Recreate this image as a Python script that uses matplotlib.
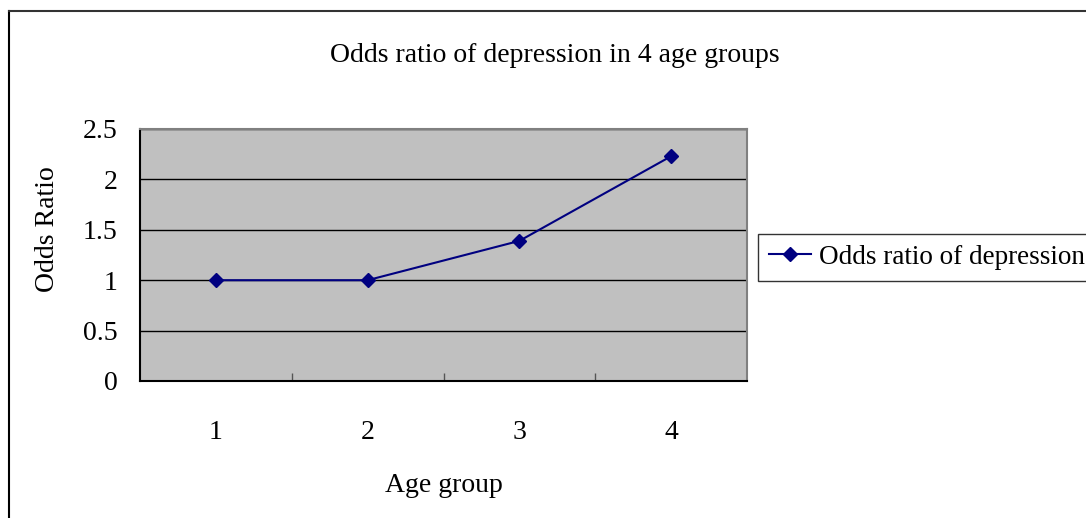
import matplotlib.pyplot as plt
from matplotlib.lines import Line2D

age_groups = [1, 2, 3, 4]
odds_ratio = [1.0, 1.0, 1.39, 2.23]
y_ticks = [0, 0.5, 1, 1.5, 2, 2.5]
y_tick_labels = ["0", "0.5", "1", "1.5", "2", "2.5"]

plt.rcParams['font.family'] = ['Liberation Serif', 'DejaVu Serif']

W, H = 1086, 518
fig = plt.figure(figsize=(W / 100, H / 100), dpi=100)
fig.patch.set_facecolor("white")

# plot area in pixel coords
left, right, top, bottom = 140, 747, 129, 381
ax = fig.add_axes([left / W, 1 - bottom / H, (right - left) / W, (bottom - top) / H])
ax.set_facecolor("#C0C0C0")

ax.plot(age_groups, odds_ratio, color="#000080", linewidth=1.5,
        marker="D", markersize=7.5, label="Odds ratio of depression", zorder=3)

ax.set_xlim(0.5, 4.5)
ax.set_ylim(0, 2.5)
ax.set_yticks(y_ticks)
ax.set_yticklabels(y_tick_labels)
ax.yaxis.grid(True, color="black", linewidth=1)
ax.set_axisbelow(True)
ax.tick_params(axis="y", length=0, labelsize=20, pad=16)

# category labels at centres, tick marks between categories
ax.set_xticks(age_groups)
ax.set_xticklabels([str(a) for a in age_groups])
ax.tick_params(axis="x", which="major", length=0, labelsize=20, pad=28)
ax.set_xticks([1.5, 2.5, 3.5], minor=True)
ax.tick_params(axis="x", which="minor", direction="in", length=6, width=1, color="#555555")

for s in ["top", "right"]:
    ax.spines[s].set_color("#808080")
    ax.spines[s].set_linewidth(1.5)
for s in ["left", "bottom"]:
    ax.spines[s].set_color("black")
    ax.spines[s].set_linewidth(1.5)

fig.text(555 / W, 1 - 55 / H, "Odds ratio of depression in 4 age groups",
         ha="center", va="center", fontsize=20)
fig.text(444 / W, 1 - 486 / H, "Age group", ha="center", va="center", fontsize=20)
fig.text(48 / W, 1 - 229 / H, "Odds Ratio", ha="center", va="center",
         rotation=90, fontsize=20)

leg = fig.legend(loc="upper left", bbox_to_anchor=(758 / W, 1 - 234 / H),
                 frameon=True, fancybox=False, fontsize=19.5, handlelength=1.55,
                 borderpad=0.4, handletextpad=0.3, borderaxespad=0)
leg.get_frame().set_edgecolor("black")
leg.get_frame().set_linewidth(1)

# chart-area border (left and top edges visible)
fig.add_artist(Line2D([9 / W, 9 / W], [0, 1 - 11 / H], color="black", linewidth=1.5))
fig.add_artist(Line2D([9 / W, 1], [1 - 11 / H, 1 - 11 / H], color="#333333", linewidth=1.5))

fig.savefig("out.png", dpi=100)
